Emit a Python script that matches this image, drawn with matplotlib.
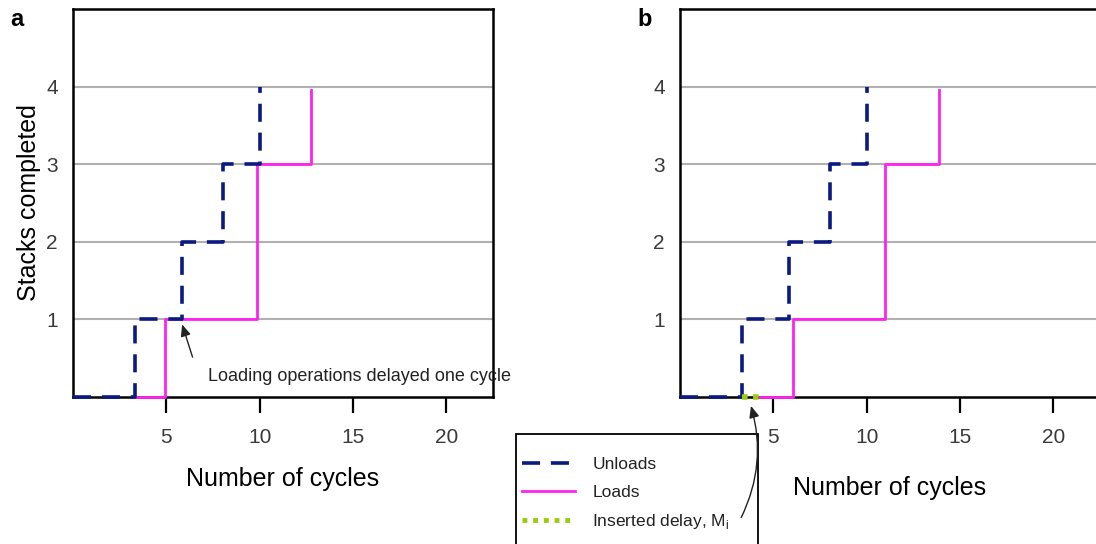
import numpy as np
import matplotlib
matplotlib.use('Agg')
import matplotlib.pyplot as plt
from matplotlib.lines import Line2D
from matplotlib.patches import Rectangle

plt.rcParams['font.family'] = ['Liberation Sans', 'DejaVu Sans']

# cycle at which each stack is finished (step data, 'post')
unload_x = [0, 3.33, 5.85, 8.05, 10.0]
unload_y = [0, 1, 2, 3, 4]

# (a) loads without any inserted delay
load_a_x = [3.33, 4.95, 9.85, 12.75]
load_a_y = [0, 1, 3, 3.95]

# (b) loads after the inserted delay M_i
load_b_x = [4.3, 6.07, 11.0, 13.87]
load_b_y = [0, 1, 3, 3.95]
delay_x = [3.33, 4.3]
delay_y = [0, 0]

x_ticks = [5, 10, 15, 20]
y_ticks = [1, 2, 3, 4]

navy = '#0a1a80'
pink = '#ff22ee'
green = '#99cc11'
W, H = 1096, 544


def setup_axes(ax, xlabelpad):
    ax.set_xlim(0, 22.5)
    ax.set_ylim(0, 5)
    ax.set_xticks(x_ticks)
    ax.set_yticks(y_ticks)
    for g in y_ticks:
        ax.axhline(g, color='#b0b0b0', lw=1.5, zorder=1)
    for s in ax.spines.values():
        s.set_linewidth(1.8)
        s.set_color('black')
    ax.tick_params(axis='x', direction='out', length=11.5, width=1.6,
                   pad=11, labelsize=15, labelcolor='#3a3a3a')
    ax.tick_params(axis='y', length=0, pad=11, labelsize=15, labelcolor='#3a3a3a')
    ax.set_xlabel('Number of cycles', fontsize=18, labelpad=xlabelpad)


def draw_unloads(ax):
    ax.step(unload_x, unload_y, where='post', color=navy, lw=2.6,
            dashes=(5, 3), zorder=4, clip_on=False)


fig = plt.figure(figsize=(W / 100, H / 100), dpi=100)
ax_a = fig.add_axes([73 / W, 1 - 397 / H, 420 / W, 388 / H])
ax_b = fig.add_axes([680 / W, 1 - 397 / H, 420 / W, 388 / H])

# panel a
setup_axes(ax_a, 14)
ax_a.set_ylabel('Stacks completed', fontsize=18, labelpad=4)
draw_unloads(ax_a)
ax_a.step(load_a_x, load_a_y, where='post', color=pink, lw=2, zorder=3, clip_on=False)
ax_a.annotate('', xy=(5.8, 0.97), xytext=(6.45, 0.48),
              arrowprops=dict(arrowstyle='-|>,head_length=0.7,head_width=0.3',
                              color='#222222', lw=1))
ax_a.text(7.25, 0.27, 'Loading operations delayed one cycle', fontsize=13,
          color='#222222', ha='left', va='center', clip_on=False, zorder=6)

# panel b
setup_axes(ax_b, 21)
draw_unloads(ax_b)
ax_b.step(load_b_x, load_b_y, where='post', color=pink, lw=2, zorder=3, clip_on=False)
ax_b.plot(delay_x, delay_y, color=green, lw=4, linestyle=(0, (1, 1)),
          dash_capstyle='butt', zorder=5, clip_on=False)

fig.text(17 / W, 1 - 20 / H, 'a', fontsize=17, fontweight='bold', ha='center', va='center')
fig.text(645 / W, 1 - 20 / H, 'b', fontsize=17, fontweight='bold', ha='center', va='center')

# legend box runs off the bottom edge, so draw the frame by hand
box = Rectangle((516 / W, -0.05), 242 / W, 0.05 + 1 - 434 / H, transform=fig.transFigure,
                facecolor='white', edgecolor='black', lw=1.3, zorder=-2)
fig.add_artist(box)

handles = [
    Line2D([], [], color=navy, lw=2.6, dashes=(5, 3)),
    Line2D([], [], color=pink, lw=2),
    Line2D([], [], color=green, lw=3.5, linestyle=(0, (1, 1.2)), dash_capstyle='butt'),
]
labels = ['Unloads', 'Loads', 'Inserted delay, M$_\\mathregular{i}$']
leg = fig.legend(handles, labels, loc='upper left',
                 bbox_to_anchor=(522 / W, 1 - 457 / H), frameon=False,
                 fontsize=12.5, borderaxespad=0, borderpad=0,
                 handlelength=3.05, handletextpad=1.0, labelspacing=0.72)
leg.set_zorder(-1)
for t in leg.get_texts():
    t.set_color('#222222')

# curved pointer from the legend entry to the delay on the x axis
ax_b.annotate('', xy=(3.76, -0.08), xycoords='data',
              xytext=(740 / W, 1 - 520 / H), textcoords='figure fraction',
              annotation_clip=False,
              arrowprops=dict(arrowstyle='-|>,head_length=0.7,head_width=0.3',
                              color='#222222', lw=1, connectionstyle='arc3,rad=0.2'))

fig.savefig('out.png', dpi=100)
